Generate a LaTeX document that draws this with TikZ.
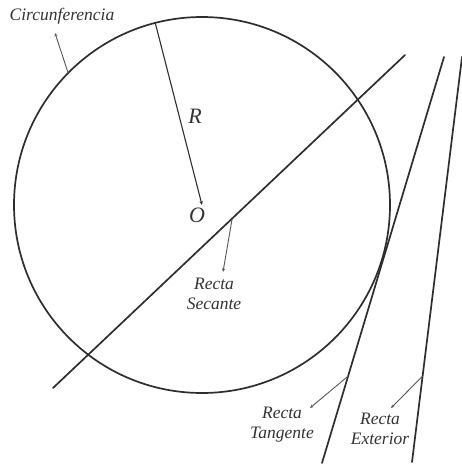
\documentclass[tikz,border=0pt]{standalone}
\usepackage{fontspec}
\setmainfont{Liberation Serif}
\usepackage{xcolor}
\definecolor{linec}{HTML}{2E2E2E}
\definecolor{ptrc}{HTML}{555555}
\definecolor{txtc}{HTML}{333333}
\usetikzlibrary{arrows.meta,calc}
\tikzset{
  recta/.style={draw=linec,line width=1.7pt,line cap=round},
  circ/.style={draw=linec,line width=1.7pt},
  radio/.style={-{Stealth[length=4pt,width=3.5pt]},line width=1.1pt,draw=linec},
  ptr/.style={-{Stealth[length=3.5pt,width=3pt]},line width=0.9pt,draw=ptrc},
  lbl/.style={font=\itshape\fontsize{17.5}{20}\selectfont,text=txtc,align=center,inner sep=0pt},
  big/.style={font=\itshape\fontsize{22}{24}\selectfont,text=txtc,inner sep=0pt},
}

\begin{document}
\begin{tikzpicture}[x=1pt,y=-1pt]
  \useasboundingbox (0,0) rectangle (462,465);
  % circunferencia y radio
  \coordinate (c) at (202,205);
  \draw[circ] (c) circle[radius=188];
  \coordinate (r) at ($(c)+(-104.4:188)$);
  \draw[radio] (r) -- (c);
  \node[big] (lr) at (195,116) {R};
  \node[big] (lo) at (197,215) {O};
  \node[lbl] (lc) at (62,16) {Circunferencia};
  \coordinate (pc) at (55,33);
  \draw[ptr] ($(c)+(-135.4:188)$) -- (pc);
  % rectas
  \coordinate (s1) at (53,388); \coordinate (s2) at (405,55);
  \coordinate (t1) at (322,463); \coordinate (t2) at (444,57);
  \coordinate (e1) at (412,462); \coordinate (e2) at (462,57);
  \draw[recta] (s1) -- (s2);
  \draw[recta] (t1) -- (t2);
  \draw[recta] (e1) -- (e2);
  % etiquetas
  \node[lbl] (ls) at (214,294) {Recta\\Secante};
  \node[lbl] (lt) at (282,425) {Recta\\Tangente};
  \node[lbl] (le) at (380,429) {Recta\\Exterior};
  \coordinate (ps) at (223,272);
  \coordinate (pt) at (310,408);
  \coordinate (pe) at (391,408);
  \draw[ptr] ($(s1)!0.509!(s2)$) -- (ps);
  \draw[ptr] ($(t1)!0.214!(t2)$) -- (pt);
  \draw[ptr] ($(e1)!0.212!(e2)$) -- (pe);
\end{tikzpicture}
\end{document}
